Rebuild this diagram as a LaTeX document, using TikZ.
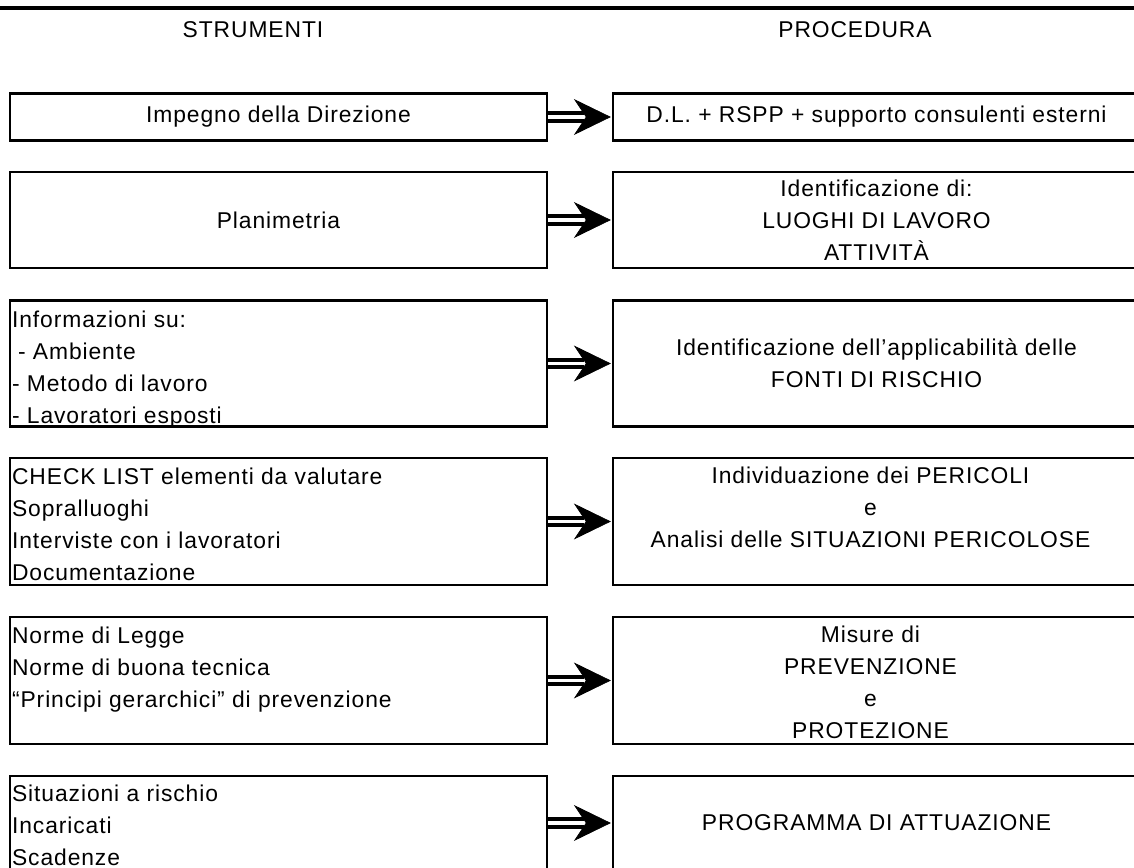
\documentclass[tikz,border=0pt]{standalone}
\usepackage{fontspec}
\setmainfont{Liberation Sans}[LetterSpace=4]
\usetikzlibrary{arrows.meta,calc}
\tikzset{
>=Stealth,
scatola/.style={draw,line width=1.5pt,inner sep=0pt},
sinistra/.style={scatola,minimum width=10.74cm},
destra/.style={scatola,minimum width=10.54cm},
testo sx/.style={anchor=north west,align=left,inner sep=0pt},
testo dx/.style={anchor=north,align=center,inner sep=0pt},
freccia/.style={double=white,line width=2.3pt,double distance=2pt,shorten >=0.56cm},
punta/.style={-{Stealth[length=0.74cm,width=0.72cm,inset=0.24cm]},line width=0.4pt,shorten >=0.5pt}}

\begin{document}
\begin{tikzpicture}[x=0.02cm,y=-0.02cm,font=\fontsize{13}{18.2}\selectfont]
\useasboundingbox (0,0) rectangle (1134,868);

\draw[line width=2pt] (0,8) -- (1134,8);
\node (strumenti) at (253,30) {STRUMENTI};
\node (procedura) at (855,30) {PROCEDURA};

% colonna strumenti
\node[sinistra,minimum height=0.94cm] (l1) at (278.5,117) {Impegno della Direzione};
\node[sinistra,minimum height=1.92cm] (l2) at (278.5,220) {Planimetria};
\node[sinistra,minimum height=2.52cm] (l3) at (278.5,363.5) {};
\node[sinistra,minimum height=2.54cm] (l4) at (278.5,521.5) {};
\node[sinistra,minimum height=2.54cm] (l5) at (278.5,680.5) {};
\node[sinistra,minimum height=1.88cm] (l6) at (278.5,823) {};

\node[testo sx] (t3) at ($(l3.north west)+(3,11)$) {Informazioni su:\\\hspace{0.12cm}- Ambiente\\- Metodo di lavoro\\- Lavoratori esposti};
\node[testo sx] (t4) at ($(l4.north west)+(3,11)$) {CHECK LIST elementi da valutare\\Sopralluoghi\\Interviste con i lavoratori\\Documentazione};
\node[testo sx] (t5) at ($(l5.north west)+(3,11)$) {Norme di Legge\\Norme di buona tecnica\\“Principi gerarchici” di prevenzione};
\node[testo sx] (t6) at ($(l6.north west)+(3,10)$) {Situazioni a rischio\\Incaricati\\Scadenze};

% colonna procedura
\node[destra,minimum height=0.94cm] (r1) at (876.5,117) {D.L. + RSPP + supporto consulenti esterni};
\node[destra,minimum height=1.92cm,align=center] (r2) at (876.5,220) {Identificazione di:\\LUOGHI DI LAVORO\\ATTIVITÀ};
\node[destra,minimum height=2.52cm,align=center] (r3) at (876.5,363.5) {Identificazione dell'applicabilità delle\\FONTI DI RISCHIO};
\node[destra,minimum height=2.54cm] (r4) at (876.5,521.5) {};
\node[destra,minimum height=2.54cm] (r5) at (876.5,680.5) {};
\node[destra,minimum height=1.88cm] (r6) at (876.5,823) {PROGRAMMA DI ATTUAZIONE};

\node[testo dx] (s4) at ($(r4.north)+(-6,10)$) {Individuazione dei PERICOLI\\e\\Analisi delle SITUAZIONI PERICOLOSE};
\node[testo dx] (s5) at ($(r5.north)+(-6,10)$) {Misure di\\PREVENZIONE\\e\\PROTEZIONE};

% frecce doppie
\foreach \i in {1,...,6}{
  \draw[freccia] (l\i) -- (r\i);
  \draw[punta] ($(r\i.west)+(-26,0)$) -- (r\i);
}

\end{tikzpicture}
\end{document}
